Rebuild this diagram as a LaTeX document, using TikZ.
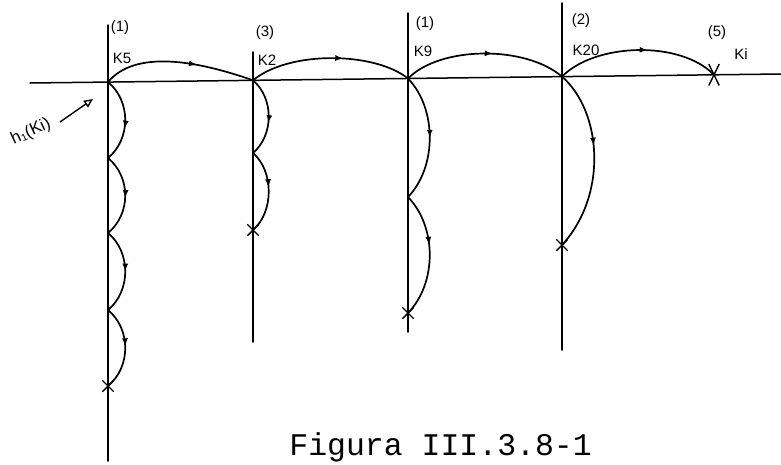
\documentclass[tikz,border=0pt]{standalone}
\usepackage{fontspec}
\setmainfont{Liberation Sans}
\setsansfont{Liberation Sans}
\setmonofont{Liberation Mono}
\usetikzlibrary{arrows.meta,decorations.markings,shapes.misc}
\begin{document}
\begin{tikzpicture}[x=1pt,y=-1pt,
  axisline/.style={line width=1.5pt, line cap=round},
  curve/.style={line width=1.7pt, postaction={decorate},
    decoration={markings, mark=at position #1 with {\arrow{Latex[length=8pt,width=6pt]}}}},
  curve/.default=0.55,
  xmark/.style={draw, cross out, line width=1.4pt, minimum size=10pt, inner sep=0pt},
  lbl/.style={font=\sffamily\fontsize{15}{15}\selectfont, inner sep=0pt},
]
\useasboundingbox (0,0) rectangle (781,464);
% axis ends
\coordinate (H0) at (30,83);
\coordinate (H9) at (781,74);
% junctions
\coordinate (J1) at (108,82);
\coordinate (J2) at (253,80.3);
\coordinate (J3) at (408,78.5);
\coordinate (J4) at (562,76.6);
\coordinate (J5) at (714,74.8);
% vertical line ends
\coordinate (T1) at (108,25);  \coordinate (B1) at (108,461);
\coordinate (T2) at (253,52);  \coordinate (B2) at (253,342);
\coordinate (T3) at (408,13);  \coordinate (B3) at (408,332);
\coordinate (T4) at (562,3);   \coordinate (B4) at (562,350);
% points along verticals
\coordinate (A11) at (108,158);
\coordinate (A12) at (108,233);
\coordinate (A13) at (108,310);
\coordinate (X1) at (108,386);
\coordinate (A21) at (253,153);
\coordinate (X2) at (253,230);
\coordinate (A31) at (408,197);
\coordinate (X3) at (408,313);
\coordinate (X4) at (562,245);

% axes
\draw[axisline] (H0) -- (H9);
\draw[axisline] (T1) -- (B1);
\draw[axisline] (T2) -- (B2);
\draw[axisline] (T3) -- (B3);
\draw[axisline] (T4) -- (B4);

% top arcs
\draw[curve=0.62] (J1) .. controls (135,50) and (195,60) .. (J2);
\draw[curve=0.58] (J2) .. controls (290,50) and (375,52) .. (J3);
\draw[curve=0.55] (J3) .. controls (440,46) and (525,45) .. (J4);
\draw[curve=0.56] (J4) .. controls (595,43) and (680,40) .. (J5);

% down arcs, line 1
\draw[curve=0.6]  (J1)  .. controls +(23,19) and +(23,-19) .. (A11);
\draw[curve=0.53] (A11) .. controls +(23,19) and +(23,-19) .. (A12);
\draw[curve=0.5]  (A12) .. controls +(23,19) and +(23,-19) .. (A13);
\draw[curve=0.48] (A13) .. controls +(23,19) and +(23,-19) .. (X1);
% line 2
\draw[curve=0.58] (J2)  .. controls +(21,18) and +(21,-18) .. (A21);
\draw[curve=0.45] (A21) .. controls +(21,18) and +(21,-18) .. (X2);
% line 3
\draw[curve=0.5]  (J3)  .. controls +(29,30) and +(29,-30) .. (A31);
\draw[curve=0.42] (A31) .. controls +(29,30) and +(29,-30) .. (X3);
% line 4
\draw[curve=0.42] (J4)  .. controls +(40,35) and +(46,-50) .. (X4);

% cross marks
\node[xmark] (m1) at (X1) {};
\node[xmark] (m2) at (X2) {};
\node[xmark] (m3) at (X3) {};
\node[xmark] (m4) at (X4) {};
\node[xmark, minimum width=9pt, minimum height=20pt] (m5) at (J5) {};

% labels
\node[lbl] (p1) at (120,28) {(1)};
\node[lbl] (k1) at (122,58) {K5};
\node[lbl] (p2) at (265,33) {(3)};
\node[lbl] (k2) at (267,60) {K2};
\node[lbl] (p3) at (425,24) {(1)};
\node[lbl] (k3) at (423,51) {K9};
\node[lbl] (p4) at (581,21) {(2)};
\node[lbl] (k4) at (586,50) {K20};
\node[lbl] (p5) at (717,33) {(5)};
\node[lbl] (k5) at (741,54) {Ki};

% h1(Ki) annotation
\node[lbl, font=\sffamily\fontsize{17}{17}\selectfont, rotate=25] (h) at (31,132) {h₁(Ki)};
\coordinate (hs) at (60,122);
\coordinate (he) at (93,99);
\draw[line width=1.4pt, -{Triangle[open,length=9pt,width=8pt]}] (hs) -- (he);

% caption
\node[font=\ttfamily\fontsize{31.5}{32}\selectfont, anchor=base east, inner sep=0pt] (cap) at (592,455) {Figura III.3.8-1};
\end{tikzpicture}
\end{document}
